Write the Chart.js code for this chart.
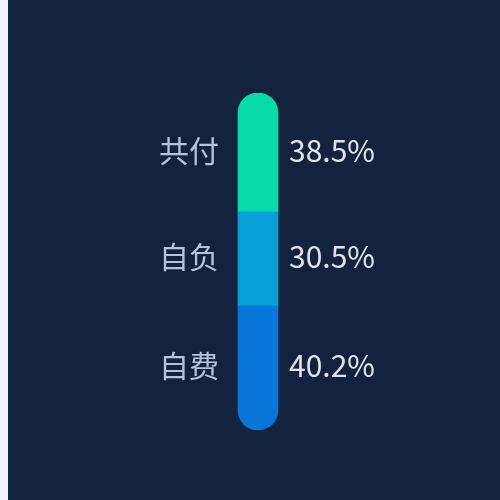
<!DOCTYPE html>
<html>
<head>
<meta charset="utf-8">
<script src="https://cdn.jsdelivr.net/npm/chart.js@4.4.0/dist/chart.umd.min.js"></script>
<style>
  html, body { margin: 0; padding: 0; background: #f0f2f7; }
  #wrap { position: absolute; left: 8px; top: 0; width: 492px; height: 500px; background: #13233d; }
</style>
</head>
<body>
<div id="wrap"><canvas id="myChart"></canvas></div>
<script>
// bottom to top
const names = ["自费", "自负", "共付"];
const values = [40.2, 30.5, 38.5];
const colors = ["#0677d9", "#069fd8", "#06dbac"];

const total = values.reduce((a, b) => a + b, 0);

const datasets = names.map((name, i) => {
  let radius = 0;
  if (i === 0) radius = { bottomLeft: 20, bottomRight: 20 };
  if (i === names.length - 1) radius = { topLeft: 20, topRight: 20 };
  return {
    label: name,
    data: [values[i]],
    backgroundColor: colors[i],
    borderWidth: 0,
    borderSkipped: false,
    borderRadius: radius,
    barThickness: 40,
  };
});

// category name left of the bar, percentage right of it
const sideLabels = {
  id: "sideLabels",
  afterDatasetsDraw(chart) {
    const ctx = chart.ctx;
    ctx.save();
    ctx.font = '30px "Noto Sans CJK SC", "Noto Sans", sans-serif';
    ctx.textBaseline = "middle";
    chart.data.datasets.forEach((ds, i) => {
      const bar = chart.getDatasetMeta(i).data[0];
      const y = (bar.y + bar.base) / 2 - 2;
      ctx.fillStyle = "#b7c3d7";
      ctx.textAlign = "right";
      ctx.fillText(ds.label, bar.x - 39, y);
      ctx.fillStyle = "#dfe3ea";
      ctx.textAlign = "left";
      ctx.fillText(ds.data[0].toFixed(1) + "%", bar.x + 31, y);
    });
    ctx.restore();
  },
};

new Chart(document.getElementById("myChart"), {
  type: "bar",
  data: { labels: [""], datasets: datasets },
  options: {
    responsive: true,
    maintainAspectRatio: false,
    animation: false,
    layout: { padding: { left: 60, right: 52, top: 93, bottom: 70 } },
    scales: {
      x: { stacked: true, display: false },
      y: { stacked: true, display: false, min: 0, max: total },
    },
    plugins: {
      legend: { display: false },
      tooltip: { enabled: false },
    },
  },
  plugins: [sideLabels],
});
</script>
</body>
</html>
